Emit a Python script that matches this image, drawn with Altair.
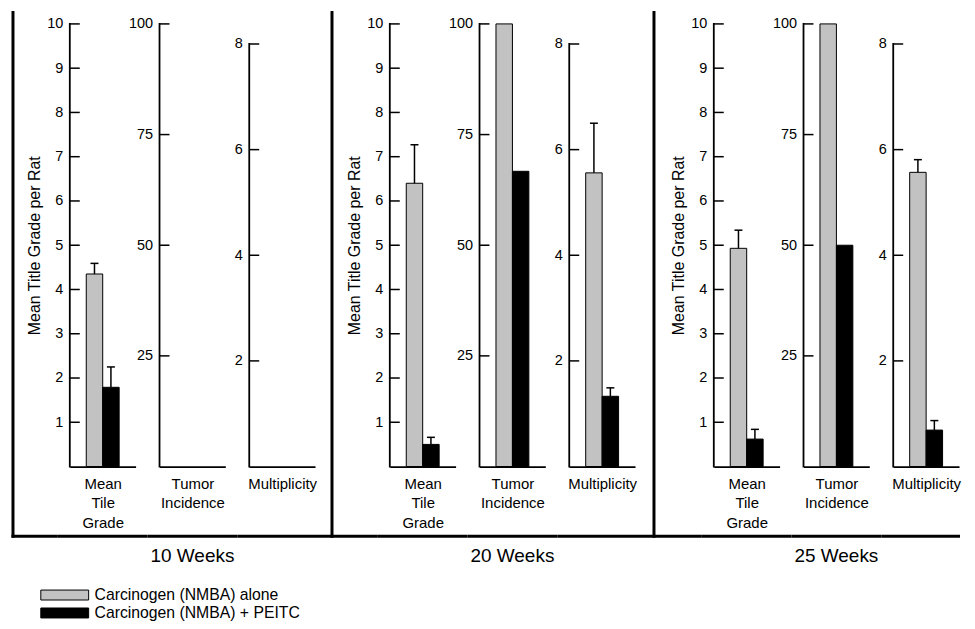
import altair as alt
import pandas as pd

FONT = "Liberation Sans"

# ---------------- data ----------------
weeks = ["10 Weeks", "20 Weeks", "25 Weeks"]
groups = ["Carcinogen (NMBA) alone", "Carcinogen (NMBA) + PEITC"]
group_colors = ["#c2c2c2", "#000000"]

grade_alone = [4.35, 6.40, 4.93]
grade_alone_err = [0.24, 0.87, 0.41]
grade_peitc = [1.79, 0.50, 0.62]
grade_peitc_err = [0.46, 0.16, 0.22]

incidence_alone = [None, 100, 100]
incidence_peitc = [None, 66.7, 50]

mult_alone = [None, 5.56, 5.57]
mult_alone_err = [None, 0.94, 0.24]
mult_peitc = [None, 1.33, 0.69]
mult_peitc_err = [None, 0.16, 0.18]

measures = ["grade", "incidence", "mult"]
measure_titles = [["Mean", "Tile", "Grade"], ["Tumor", "Incidence"], ["Multiplicity"]]
measure_top = [10, 100, 8]
measure_domain_max = [10, 100, 8.38]
measure_ticks = [[1, 2, 3, 4, 5, 6, 7, 8, 9, 10], [25, 50, 75, 100], [2, 4, 6, 8]]
y_title = "Mean Title Grade per Rat"

series = {
    "grade": [(grade_alone, grade_alone_err), (grade_peitc, grade_peitc_err)],
    "incidence": [(incidence_alone, [None] * 3), (incidence_peitc, [None] * 3)],
    "mult": [(mult_alone, mult_alone_err), (mult_peitc, mult_peitc_err)],
}

rows = []
for wi, wk in enumerate(weeks):
    for m in measures:
        for gi, g in enumerate(groups):
            vals, errs = series[m][gi]
            v = vals[wi]
            e = errs[wi]
            rows.append({
                "week": wk, "measure": m, "group": g, "value": v,
                "top": (v + e) if (v is not None and e is not None) else None,
            })
df = pd.DataFrame(rows)

# ---------------- layout constants ----------------
W = 66
H = 444
SP = 24
BOTTOM = 514     # frame bottom line (relative to plot top)
TOPF = -13       # frame top
LW = 3           # frame line width


def bottom_line(x1, x2):
    return alt.Chart(pd.DataFrame({"k": [0]})).mark_rule(
        color="black", strokeWidth=LW, strokeCap="butt"
    ).encode(x=alt.value(x1), x2=alt.value(x2), y=alt.value(BOTTOM))


def vert_line(x):
    return alt.Chart(pd.DataFrame({"k": [0]})).mark_rule(
        color="black", strokeWidth=LW, strokeCap="butt"
    ).encode(x=alt.value(x), y=alt.value(TOPF), y2=alt.value(BOTTOM + LW / 2))


def spacer(width, vx, bx1, bx2):
    return alt.layer(vert_line(vx), bottom_line(bx1, bx2)).properties(width=width, height=H)


def subplot(wk, mi, last):
    m = measures[mi]
    scale_y = alt.Scale(domain=[0, measure_domain_max[mi]], nice=False, zero=True)
    axis_y = alt.Axis(
        values=measure_ticks[mi], ticks=False, tickSize=0, domain=False, grid=False,
        labelPadding=7, labelFontSize=14.5, labelFont=FONT, labelColor="black",
        title=y_title if mi == 0 else None,
        titleFontSize=16, titleFont=FONT, titleFontWeight="normal", titleColor="black",
        titlePadding=4,
    )
    scale_x = alt.Scale(domain=groups, paddingInner=0, paddingOuter=1)
    axis_x = alt.Axis(
        labels=False, ticks=False, domain=True, domainColor="black", domainWidth=1.8,
        title=measure_titles[mi], titleFontSize=15, titleFont=FONT, titleFontWeight="normal",
        titleColor="black", titlePadding=10, titleLineHeight=19.5, grid=False,
    )
    color = alt.Color(
        "group:N",
        scale=alt.Scale(domain=groups, range=group_colors),
        legend=alt.Legend(
            orient="none", legendX=25, legendY=565, title=None,
            symbolType="M-1,-1H8.6V1H-1Z", symbolSize=100,
            symbolStrokeColor="black", symbolStrokeWidth=1, symbolOpacity=1,
            labelFontSize=15.8, labelFont=FONT, labelColor="black",
            rowPadding=1, labelOffset=41, labelLimit=400, padding=0,
        ),
    )

    data = df[(df.week == wk) & (df.measure == m)]
    ticks_df = pd.DataFrame({"value": measure_ticks[mi]})

    tick_layer = alt.Chart(ticks_df).mark_rule(color="black", strokeWidth=1.5).encode(
        y=alt.Y("value:Q", scale=scale_y, axis=axis_y),
        x=alt.value(0), x2=alt.value(10),
    )
    axis_line = alt.Chart(pd.DataFrame({"k": [0]})).mark_rule(
        color="black", strokeWidth=1.8, strokeCap="square"
    ).encode(
        y=alt.Y(datum=0, scale=scale_y, axis=axis_y),
        y2=alt.Y2(datum=measure_top[mi]),
        x=alt.value(0),
    )
    bars = alt.Chart(data).transform_filter("datum.value != null").mark_bar(
        stroke="black", strokeWidth=1
    ).encode(
        x=alt.X("group:N", scale=scale_x, axis=axis_x),
        y=alt.Y("value:Q", scale=scale_y, axis=axis_y),
        color=color,
    )
    err = alt.Chart(data).transform_filter("datum.top != null").mark_rule(
        color="black", strokeWidth=1.5
    ).encode(
        x=alt.X("group:N", scale=scale_x, axis=axis_x),
        y=alt.Y("value:Q", scale=scale_y, axis=axis_y),
        y2="top:Q",
    )
    cap = alt.Chart(data).transform_filter("datum.top != null").mark_tick(
        color="black", thickness=1.5, size=8, opacity=1
    ).encode(
        x=alt.X("group:N", scale=scale_x, axis=axis_x),
        y=alt.Y("top:Q", scale=scale_y, axis=axis_y),
    )
    bx2 = W + (1 if last else SP / 2)
    layers = [bars, err, cap, tick_layer, axis_line, bottom_line(-SP / 2, bx2)]
    props = dict(width=W, height=H)
    if mi == 1:
        props["title"] = alt.TitleParams(
            wk, orient="bottom", frame="group", offset=9, fontSize=19,
            fontWeight="normal", font=FONT, anchor="middle", color="black",
        )
    return alt.layer(*layers).properties(**props)


children = [spacer(33, 0, -LW / 2, 33 + SP / 2)]
for wi, wk in enumerate(weeks):
    for mi in range(3):
        children.append(subplot(wk, mi, wi == 2 and mi == 2))
    if wi == 0:
        children.append(spacer(27, -7, -SP / 2, 27 + SP / 2))
    elif wi == 1:
        children.append(spacer(31, -5, -SP / 2, 31 + SP / 2))

chart = alt.hconcat(*children, spacing=SP, bounds="flush").properties(
    padding={"left": 2, "top": 0, "right": 5, "bottom": 5}
).configure(
    font=FONT, view=alt.ViewConfig(stroke="transparent", strokeWidth=0)
)

chart.save("out.html", embed_options={"renderer": "svg", "actions": False})
